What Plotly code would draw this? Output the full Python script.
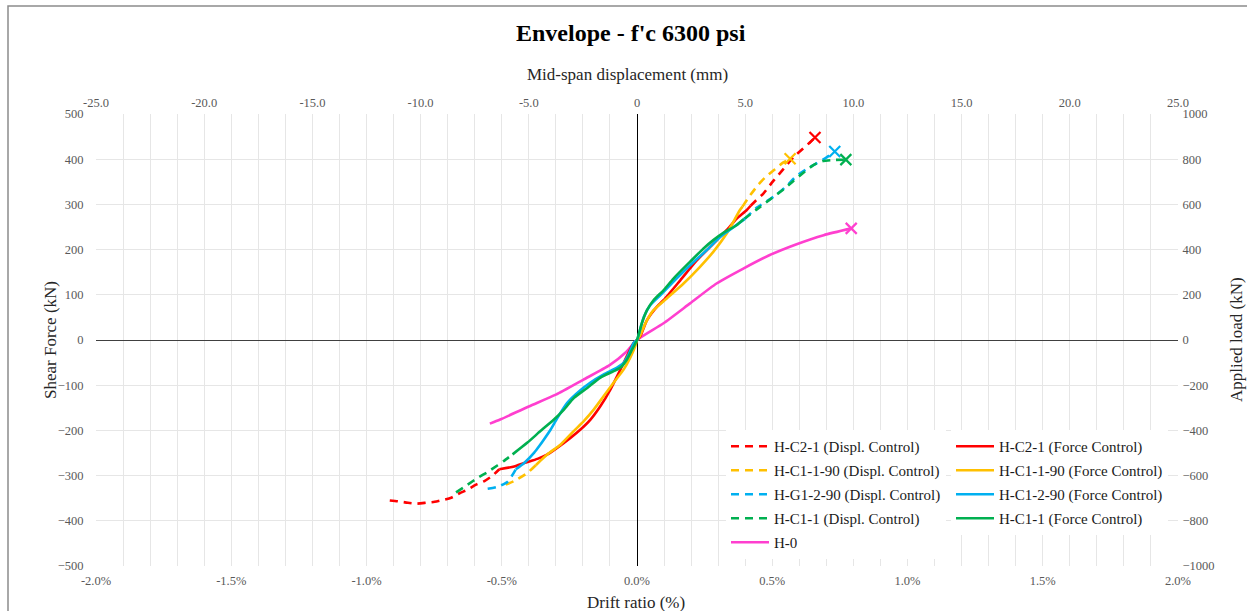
import plotly.graph_objects as go

# ---------------- data (drift ratio %, shear force kN) ----------------
# H-C2-1
hc21_force_drift = [-0.509, -0.454, -0.417, -0.368, -0.331, -0.294, -0.245, -0.209, -0.172, -0.135, -0.098, -0.061, -0.037, -0.012, 0.0,
                    0.012, 0.037, 0.074, 0.098, 0.160, 0.221, 0.282, 0.331, 0.368, 0.405, 0.420]
hc21_force_shear = [-286, -280, -272, -263, -253, -238, -216, -198, -176, -146, -109, -65, -35, -6, 0,
                    8, 44, 74, 88, 132, 176, 213, 243, 268, 287, 297]
hc21_disp_neg_drift = [-0.914, -0.883, -0.847, -0.816, -0.779, -0.748, -0.718, -0.687, -0.656, -0.626, -0.595, -0.564, -0.534, -0.509]
hc21_disp_neg_shear = [-355, -357, -360, -362, -360, -358, -354, -349, -339, -331, -320, -312, -300, -286]
hc21_disp_pos_drift = [0.420, 0.437, 0.467, 0.504, 0.541, 0.578, 0.609, 0.639, 0.658]
hc21_disp_pos_shear = [297, 307, 324, 352, 378, 404, 421, 437, 448]

# H-C1-1-90
hc1190_force_drift = [-0.374, -0.331, -0.282, -0.233, -0.196, -0.160, -0.123, -0.086, -0.049, -0.025, -0.006, 0.0,
                      0.010, 0.031, 0.061, 0.110, 0.172, 0.233, 0.282, 0.331, 0.380, 0.390]
hc1190_force_shear = [-277, -253, -231, -201, -179, -154, -124, -94, -65, -39, -13, 0,
                      8, 37, 66, 92, 125, 162, 195, 235, 287, 295]
hc1190_disp_neg_drift = [-0.485, -0.454, -0.405, -0.374]
hc1190_disp_neg_shear = [-320, -312, -294, -277]
hc1190_disp_pos_drift = [0.390, 0.412, 0.449, 0.480, 0.510, 0.541, 0.566]
hc1190_disp_pos_shear = [295, 315, 344, 363, 378, 393, 401]

# H-C1-2-90 (force) / H-G1-2-90 (displ.)
hc1290_force_drift = [-0.448, -0.417, -0.380, -0.362, -0.344, -0.319, -0.294, -0.258, -0.221, -0.172, -0.123, -0.074, -0.049, -0.031, -0.012, 0.0,
                      0.010, 0.025, 0.049, 0.086, 0.135, 0.196, 0.258, 0.307, 0.344, 0.399]
hc1290_force_shear = [-286, -272, -249, -235, -220, -198, -172, -139, -117, -94, -76, -61, -50, -32, -6, 0,
                      20, 51, 77, 99, 129, 165, 199, 228, 244, 268]
hg1290_disp_neg_drift = [-0.552, -0.518, -0.479, -0.448]
hg1290_disp_neg_shear = [-329, -325, -314, -286]
hg1290_disp_pos_drift = [0.399, 0.443, 0.480, 0.517, 0.553, 0.590, 0.627, 0.664, 0.701, 0.731]
hg1290_disp_pos_shear = [268, 293, 307, 322, 341, 363, 378, 391, 404, 417]

# H-C1-1
hc11_force_drift = [-0.460, -0.405, -0.356, -0.307, -0.270, -0.233, -0.184, -0.135, -0.086, -0.061, -0.037, -0.018, 0.0,
                    0.008, 0.018, 0.037, 0.061, 0.098, 0.135, 0.196, 0.245, 0.282, 0.319, 0.368, 0.394]
hc11_force_shear = [-253, -227, -201, -176, -154, -128, -106, -83, -69, -61, -43, -21, 0,
                    16, 37, 66, 88, 110, 136, 173, 202, 221, 237, 254, 267]
hc11_disp_neg_drift = [-0.669, -0.626, -0.589, -0.552, -0.515, -0.493, -0.460]
hc11_disp_neg_shear = [-337, -320, -305, -292, -277, -268, -253]
hc11_disp_pos_drift = [0.394, 0.443, 0.492, 0.541, 0.578, 0.615, 0.652, 0.688, 0.719, 0.772]
hc11_disp_pos_shear = [267, 289, 311, 333, 352, 370, 387, 396, 398, 399]

# H-0
h0_drift = [-0.544, -0.506, -0.400, -0.300, -0.199, -0.100, -0.039, 0.0, 0.098, 0.196, 0.294, 0.393, 0.491, 0.590, 0.690, 0.792]
h0_shear = [-185, -176, -147, -121, -88, -55, -26, 0, 37, 81, 125, 158, 188, 212, 232, 247]

# tick labels
drift_ticks = [-2.0, -1.5, -1.0, -0.5, 0.0, 0.5, 1.0, 1.5, 2.0]
drift_labels = ["-2.0%", "-1.5%", "-1.0%", "-0.5%", "0.0%", "0.5%", "1.0%", "1.5%", "2.0%"]
disp_ticks = [-25, -20, -15, -10, -5, 0, 5, 10, 15, 20, 25]
disp_labels = ["-25.0", "-20.0", "-15.0", "-10.0", "-5.0", "0", "5.0", "10.0", "15.0", "20.0", "25.0"]

# ---------------- styling ----------------
RED, ORANGE, BLUE, GREEN, PINK = "#FF0000", "#FFC000", "#00B0F0", "#00B050", "#FF3FCF"
FONT = "Liberation Serif"
LW = 2.6
DASH = "8px,6px"

W, H = 1247, 611
L, R, T, B = 96, 1178, 114, 566


def px_x(px):
    return (px - L) / (R - L)


def px_y(py):
    return (B - py) / (B - T)


fig = go.Figure()


def disp_trace(name, color, nd, ns, pd, ps):
    fig.add_trace(go.Scatter(
        x=nd + [None] + pd, y=ns + [None] + ps, name=name, mode="lines",
        line=dict(color=color, width=LW, dash=DASH, shape="spline", smoothing=0.6),
        connectgaps=False, legend="legend", legendgroup=name))


def force_trace(name, color, d, s):
    fig.add_trace(go.Scatter(
        x=d, y=s, name=name, mode="lines",
        line=dict(color=color, width=LW, shape="spline", smoothing=0.6),
        legend="legend2", legendgroup=name))


def end_marker(color, d, s):
    fig.add_trace(go.Scatter(
        x=[d[-1]], y=[s[-1]], mode="markers", showlegend=False, hoverinfo="skip",
        marker=dict(symbol="x-thin", size=11, line=dict(color=color, width=2.2))))


# legend 1 (displacement control + H-0)
disp_trace("H-C2-1 (Displ. Control)", RED, hc21_disp_neg_drift, hc21_disp_neg_shear, hc21_disp_pos_drift, hc21_disp_pos_shear)
disp_trace("H-C1-1-90 (Displ. Control)", ORANGE, hc1190_disp_neg_drift, hc1190_disp_neg_shear, hc1190_disp_pos_drift, hc1190_disp_pos_shear)
disp_trace("H-G1-2-90 (Displ. Control)", BLUE, hg1290_disp_neg_drift, hg1290_disp_neg_shear, hg1290_disp_pos_drift, hg1290_disp_pos_shear)
disp_trace("H-C1-1 (Displ. Control)", GREEN, hc11_disp_neg_drift, hc11_disp_neg_shear, hc11_disp_pos_drift, hc11_disp_pos_shear)
fig.add_trace(go.Scatter(x=h0_drift, y=h0_shear, name="H-0", mode="lines",
                         line=dict(color=PINK, width=LW, shape="spline", smoothing=0.6),
                         legend="legend", legendgroup="H-0"))

# legend 2 (force control)
force_trace("H-C2-1 (Force Control)", RED, hc21_force_drift, hc21_force_shear)
force_trace("H-C1-1-90 (Force Control)", ORANGE, hc1190_force_drift, hc1190_force_shear)
force_trace("H-C1-2-90 (Force Control)", BLUE, hc1290_force_drift, hc1290_force_shear)
force_trace("H-C1-1 (Force Control)", GREEN, hc11_force_drift, hc11_force_shear)

# failure markers
end_marker(RED, hc21_disp_pos_drift, hc21_disp_pos_shear)
end_marker(ORANGE, hc1190_disp_pos_drift, hc1190_disp_pos_shear)
end_marker(BLUE, hg1290_disp_pos_drift, hg1290_disp_pos_shear)
end_marker(GREEN, hc11_disp_pos_drift, hc11_disp_pos_shear)
end_marker(PINK, h0_drift, h0_shear)

# empty trace so the secondary (top / right) axes are drawn
fig.add_trace(go.Scatter(x=[None], y=[None], xaxis="x2", yaxis="y2", showlegend=False,
                         hoverinfo="skip", mode="lines"))

GRID = "#E6E6E6"
TICKF = dict(family=FONT, size=12.5, color="#595959")
TITLEF = dict(family=FONT, size=17, color="#262626")

legend_common = dict(
    bgcolor="white", borderwidth=0, font=dict(family=FONT, size=15, color="#1a1a1a"),
    orientation="v", xanchor="left", yanchor="top", tracegroupgap=1.5, itemwidth=38,
)

fig.update_layout(
    width=W, height=H,
    margin=dict(l=L, r=W - R, t=T, b=H - B, pad=0, autoexpand=False),
    paper_bgcolor="white", plot_bgcolor="white",
    font=dict(family=FONT),
    showlegend=True,
    legend=dict(x=px_x(726), y=px_y(430), **legend_common),
    legend2=dict(x=px_x(951), y=px_y(430), **legend_common),
    xaxis=dict(
        range=[-2, 2], tickvals=drift_ticks, ticktext=drift_labels, tickfont=TICKF,
        showgrid=True, gridcolor=GRID, gridwidth=1,
        minor=dict(dtick=0.1, tick0=0, showgrid=True, gridcolor=GRID, gridwidth=1),
        zeroline=True, zerolinecolor="black", zerolinewidth=1,
        showline=False, ticks="outside", ticklen=3, tickcolor="rgba(0,0,0,0)",
        automargin=False,
    ),
    xaxis2=dict(
        range=[-25, 25], tickvals=disp_ticks, ticktext=disp_labels, tickfont=TICKF,
        overlaying="x", side="top", anchor="y2", showgrid=False, zeroline=False,
        ticks="outside", ticklen=1, tickcolor="rgba(0,0,0,0)", automargin=False,
    ),
    yaxis=dict(
        range=[-500, 500], dtick=100, tick0=0, tickfont=TICKF,
        showgrid=True, gridcolor=GRID, gridwidth=1,
        zeroline=True, zerolinecolor="#404040", zerolinewidth=1,
        ticks="outside", ticklen=9, tickcolor="rgba(0,0,0,0)", automargin=False,
    ),
    yaxis2=dict(
        range=[-1000, 1000], dtick=200, tick0=0, tickfont=TICKF,
        overlaying="y", side="right", anchor="x2", showgrid=False, zeroline=False,
        ticks="outside", ticklen=1, tickcolor="rgba(0,0,0,0)", automargin=False,
    ),
    annotations=[
        dict(text="<b>Envelope - f'c 6300 psi</b>", xref="paper", yref="paper",
             x=px_x(631), y=px_y(33), xanchor="center", yanchor="middle", showarrow=False,
             font=dict(family=FONT, size=24, color="black")),
        dict(text="Mid-span displacement (mm)", xref="paper", yref="paper",
             x=px_x(627), y=px_y(74), xanchor="center", yanchor="middle", showarrow=False,
             font=TITLEF),
        dict(text="Drift ratio (%)", xref="paper", yref="paper",
             x=px_x(636), y=px_y(602), xanchor="center", yanchor="middle", showarrow=False,
             font=TITLEF),
        dict(text="Shear Force (kN)", xref="paper", yref="paper", textangle=-90,
             x=px_x(50), y=px_y(340), xanchor="center", yanchor="middle", showarrow=False,
             font=TITLEF),
        dict(text="Applied load (kN)", xref="paper", yref="paper", textangle=-90,
             x=px_x(1236), y=px_y(340), xanchor="center", yanchor="middle", showarrow=False,
             font=TITLEF),
    ],
    shapes=[dict(
        type="rect", xref="paper", yref="paper",
        x0=px_x(8), x1=px_x(1262), y0=px_y(620), y1=px_y(6),
        line=dict(color="#8C8C8C", width=1.5), fillcolor="rgba(0,0,0,0)", layer="above",
    )],
)

fig.write_html("out.html")
